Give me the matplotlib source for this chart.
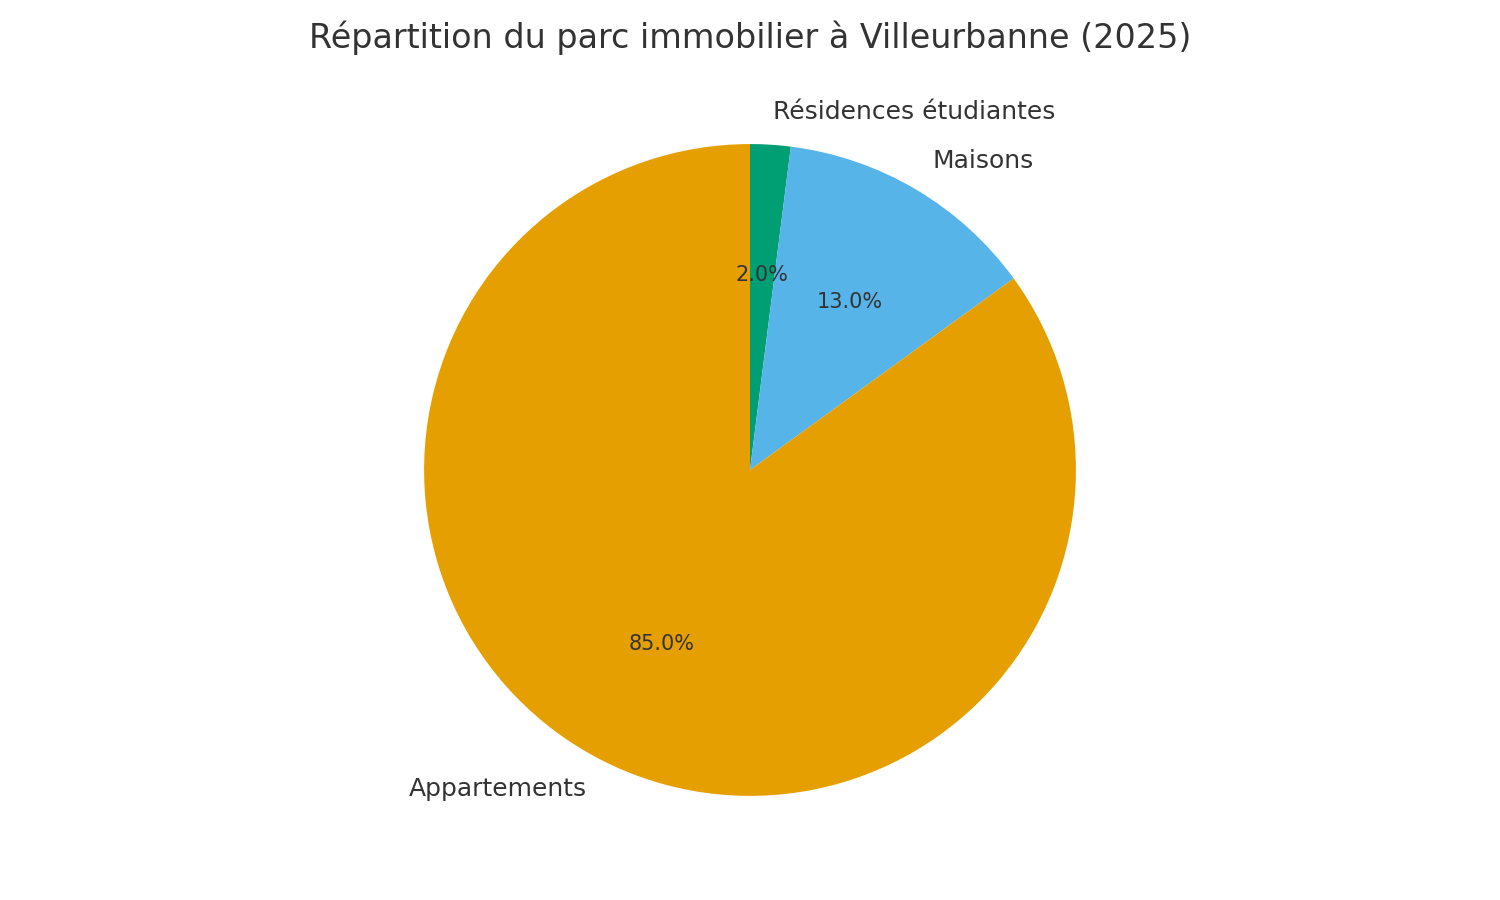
import matplotlib
matplotlib.use("Agg")
import matplotlib.pyplot as plt

labels = ["Résidences étudiantes", "Maisons", "Appartements"]
values = [2.0, 13.0, 85.0]
colors = ["#009E73", "#56B4E9", "#E69F00"]
title = "Répartition du parc immobilier à Villeurbanne (2025)"

fig = plt.figure(figsize=(15, 9), dpi=100)
ax = fig.add_axes([0.261, 0.0793, 0.478, 0.797])
wedges, texts, autotexts = ax.pie(
    values, labels=labels, colors=colors, autopct="%1.1f%%",
    startangle=90, counterclock=False,
    textprops={"fontsize": 18, "color": "#333333"},
)
for t in autotexts:
    t.set_fontsize(15)
    t.set_color("#333333")
ax.set_xlim(-1.1, 1.1)
ax.set_ylim(-1.1, 1.1)
ax.set_aspect("equal")
fig.text(0.5, 1 - 38 / 900, title, fontsize=24, color="#333333",
         ha="center", va="center")
fig.savefig("out.png", dpi=100)
